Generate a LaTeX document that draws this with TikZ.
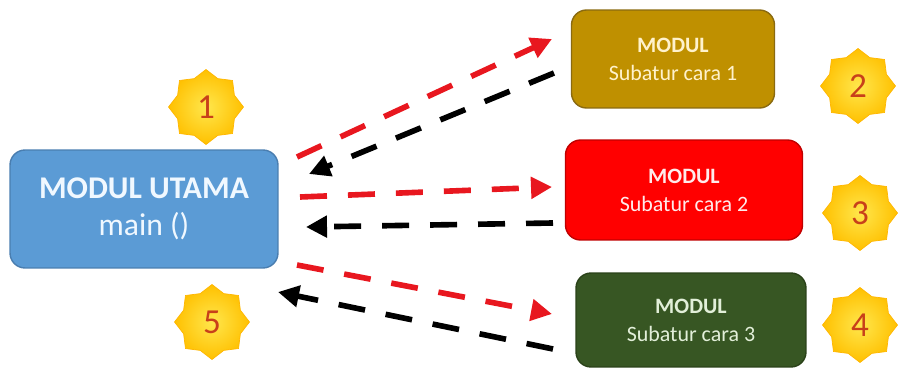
\documentclass[tikz,border=0pt]{standalone}
\usepackage{fontspec}
\setmainfont{Carlito}
\usetikzlibrary{arrows.meta,shapes.geometric}

\definecolor{utama}{HTML}{5B9BD5}
\definecolor{utamaline}{HTML}{4A7EB0}
\definecolor{emas}{HTML}{BF9000}
\definecolor{emasline}{HTML}{8A6A10}
\definecolor{merah}{HTML}{FF0000}
\definecolor{merahline}{HTML}{C00000}
\definecolor{hijau}{HTML}{375623}
\definecolor{hijauline}{HTML}{2A4219}
\definecolor{bintang}{HTML}{FFC000}
\definecolor{angka}{HTML}{C8401A}
\definecolor{panah}{HTML}{E8171F}

\tikzset{
    modul/.style={rectangle, rounded corners=0.3cm, line width=0.8pt, align=center, inner sep=2pt},
    kecil/.style={modul, font=\fontsize{12.5}{16}\selectfont},
    badge/.style={star, star points=8, star point ratio=1.22, minimum size=1.5cm,
        inner color=bintang!55!yellow!70!white, outer color=bintang, draw=bintang!85!orange,
        line width=0.4pt, text=angka, font=\fontsize{20}{20}\selectfont},
    req/.style={draw=panah, line width=3.2pt, dash pattern=on 0.54cm off 0.42cm,
        -{Triangle[length=0.42cm, width=0.42cm]}},
    ret/.style={draw=black, line width=3.2pt, dash pattern=on 0.54cm off 0.42cm,
        -{Triangle[length=0.42cm, width=0.42cm]}}
}

\begin{document}
\begin{tikzpicture}[x=0.02cm, y=-0.02cm]
    \useasboundingbox (0, 0) rectangle (900, 368);

    % Nodes
    \node[modul, fill=utama, draw=utamaline, minimum width=5.36cm, minimum height=2.36cm,
        font=\fontsize{18}{22}\selectfont, text={rgb,255:red,240;green,248;blue,255}] at (144, 209) (main)
        {\textbf{MODUL UTAMA}\\[-1pt]main ()};
    \node[kecil, fill=emas, draw=emasline, minimum width=4.06cm, minimum height=1.96cm,
        text={rgb,255:red,255;green,242;blue,204}] at (673, 59) (m1)
        {\textbf{MODUL}\\[0pt]Subatur cara 1};
    \node[kecil, fill=merah, draw=merahline, minimum width=4.74cm, minimum height=2.0cm,
        text={rgb,255:red,255;green,235;blue,235}] at (684, 190) (m2)
        {\textbf{MODUL}\\[0pt]Subatur cara 2};
    \node[kecil, fill=hijau, draw=hijauline, minimum width=4.6cm, minimum height=1.88cm,
        text={rgb,255:red,226;green,239;blue,217}] at (691, 320) (m3)
        {\textbf{MODUL}\\[0pt]Subatur cara 3};

    \node[badge] at (206, 107) (b1) {1};
    \node[badge] at (858, 86) (b2) {2};
    \node[badge] at (860, 213) (b3) {3};
    \node[badge] at (860, 325) (b4) {4};
    \node[badge] at (212, 322) (b5) {5};

    % Arrow ends
    \coordinate (r1s) at (297, 157);
    \coordinate (r1e) at (552, 39);
    \coordinate (k1s) at (554, 73);
    \coordinate (k1e) at (309, 174);
    \coordinate (r2s) at (300, 197);
    \coordinate (r2e) at (552, 187);
    \coordinate (k2s) at (553, 223);
    \coordinate (k2e) at (306, 227);
    \coordinate (r3s) at (297, 265);
    \coordinate (r3e) at (552, 314);
    \coordinate (k3s) at (553, 349);
    \coordinate (k3e) at (278, 292);

    % Edges
    \draw[req] (r1s) -- (r1e);
    \draw[ret] (k1s) -- (k1e);
    \draw[req] (r2s) -- (r2e);
    \draw[ret] (k2s) -- (k2e);
    \draw[req] (r3s) -- (r3e);
    \draw[ret] (k3s) -- (k3e);
\end{tikzpicture}
\end{document}
